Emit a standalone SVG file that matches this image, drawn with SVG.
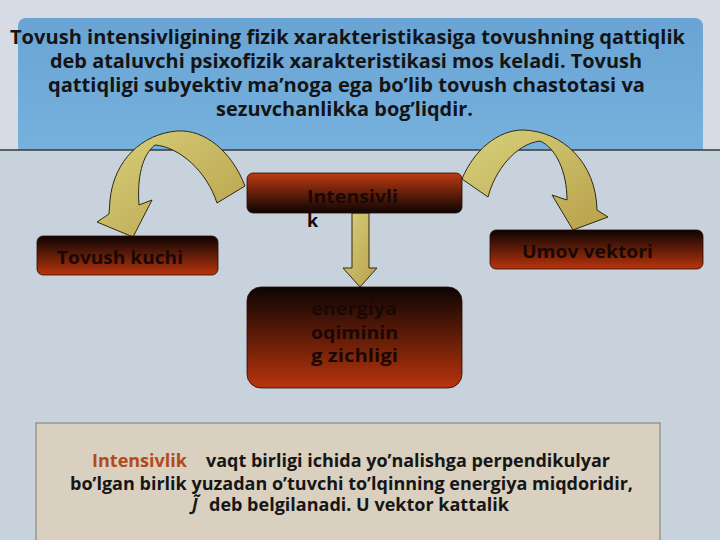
<svg xmlns="http://www.w3.org/2000/svg" width="720" height="540" viewBox="0 0 720 540">
<style>
.t{font-family:"Open Sans","Noto Sans","DejaVu Sans",sans-serif;font-weight:bold;}
.top{font-size:19px;fill:#141414;}
.nd{font-size:18px;fill:#1a0804;}
.bt{font-size:17px;fill:#161616;}
.hl{fill:#b24a1a;}
.arr{fill:url(#ag);stroke:#2e2a12;stroke-width:1;stroke-linejoin:round;}
</style>
<defs>
<linearGradient id="rb" x1="0" y1="0" x2="0" y2="1">
<stop offset="0" stop-color="#0c0404"/>
<stop offset="1" stop-color="#b8340c"/>
</linearGradient>
<linearGradient id="rt" x1="0" y1="0" x2="0" y2="1">
<stop offset="0" stop-color="#bd3a10"/>
<stop offset="1" stop-color="#0c0404"/>
</linearGradient>
<linearGradient id="ag" x1="0" y1="0" x2="1" y2="1">
<stop offset="0" stop-color="#d8d07c"/>
<stop offset="1" stop-color="#b8a04a"/>
</linearGradient>
<linearGradient id="bl" x1="0" y1="0" x2="0" y2="1">
<stop offset="0" stop-color="#6aa4d4"/>
<stop offset="1" stop-color="#78b2de"/>
</linearGradient>
</defs>
<rect x="0" y="0" width="720" height="540" fill="#c8d2dc"/>
<rect x="0" y="0" width="720" height="150" fill="#d6dbe6"/>
<rect x="18" y="18" width="685" height="150" rx="8" fill="url(#bl)"/>
<rect x="0" y="150" width="720" height="390" fill="#c8d2dc"/>
<line x1="0" y1="150" x2="720" y2="150" stroke="#3a3a3a" stroke-width="1.5"/>

<g id="title">
<text class="t top" x="10" y="44" textLength="675" lengthAdjust="spacingAndGlyphs">Tovush intensivligining fizik xarakteristikasiga tovushning qattiqlik</text>
<text class="t top" x="50" y="68" textLength="592" lengthAdjust="spacingAndGlyphs">deb ataluvchi psixofizik xarakteristikasi mos keladi. Tovush</text>
<text class="t top" x="48" y="92" textLength="597" lengthAdjust="spacingAndGlyphs">qattiqligi subyektiv ma’noga ega bo’lib tovush chastotasi va</text>
<text class="t top" x="216" y="116" textLength="257" lengthAdjust="spacingAndGlyphs">sezuvchanlikka bog’liqdir.</text>
</g>

<g id="connectors">
<path class="arr" d="M245,186 C232,152 205,129 177,131 C142,134 114,160 110,200 L109,214 L97,222 L133,237 L152,200 L139,205 C137,178 142,155 155,145 C180,147 207,172 217,203 Z"/>
<path class="arr" d="M462,179 C474,150 498,130 523,130 C562,131 596,162 597,210 L608,217 L573,230 L552,195 L567,200 C567,172 556,148 540,141 C516,144 495,170 488,197 Z"/>
<path class="arr" d="M352,213 L369,213 L369,268 L377,268 L360,287 L343,268 L352,268 Z"/>
</g>

<g id="node-intensivlik">
<rect x="247" y="173" width="215" height="40" rx="6" fill="url(#rt)" stroke="#2a0a04" stroke-width="0.8"/>
<text class="t nd" x="307" y="203" textLength="91" lengthAdjust="spacingAndGlyphs">Intensivli</text>
<text class="t nd" x="307" y="227">k</text>
</g>

<g id="node-tovush-kuchi">
<rect x="37" y="236" width="181" height="39" rx="6" fill="url(#rb)" stroke="#2a0a04" stroke-width="0.8"/>
<text class="t nd" x="57" y="264" textLength="126" lengthAdjust="spacingAndGlyphs">Tovush kuchi</text>
</g>

<g id="node-umov-vektori">
<rect x="490" y="230" width="213" height="39" rx="6" fill="url(#rb)" stroke="#2a0a04" stroke-width="0.8"/>
<text class="t nd" x="522" y="258" textLength="131" lengthAdjust="spacingAndGlyphs">Umov vektori</text>
</g>

<g id="node-energiya">
<rect x="247" y="287" width="215" height="101" rx="14" fill="url(#rb)" stroke="#2a0a04" stroke-width="0.8"/>
<text class="t nd" x="311" y="315" textLength="86" lengthAdjust="spacingAndGlyphs">energiya</text>
<text class="t nd" x="311" y="339" textLength="87" lengthAdjust="spacingAndGlyphs">oqiminin</text>
<text class="t nd" x="311" y="362" textLength="87" lengthAdjust="spacingAndGlyphs">g zichligi</text>
</g>

<g id="definition">
<rect x="36" y="423" width="624" height="130" fill="#d9d0bf" stroke="#7a7a72" stroke-width="1"/>
<text class="t bt hl" x="92" y="467" textLength="95" lengthAdjust="spacingAndGlyphs">Intensivlik</text>
<text class="t bt" x="206" y="467" textLength="404" lengthAdjust="spacingAndGlyphs">vaqt birligi ichida yo’nalishga perpendikulyar</text>
<text class="t bt" x="70" y="490" textLength="563" lengthAdjust="spacingAndGlyphs">bo’lgan birlik yuzadan o’tuvchi to’lqinning energiya miqdoridir,</text>
<text class="t bt" x="192" y="511" font-style="italic">J̃</text>
<text class="t bt" x="209" y="511" textLength="300" lengthAdjust="spacingAndGlyphs">deb belgilanadi. U vektor kattalik</text>
</g>
</svg>
